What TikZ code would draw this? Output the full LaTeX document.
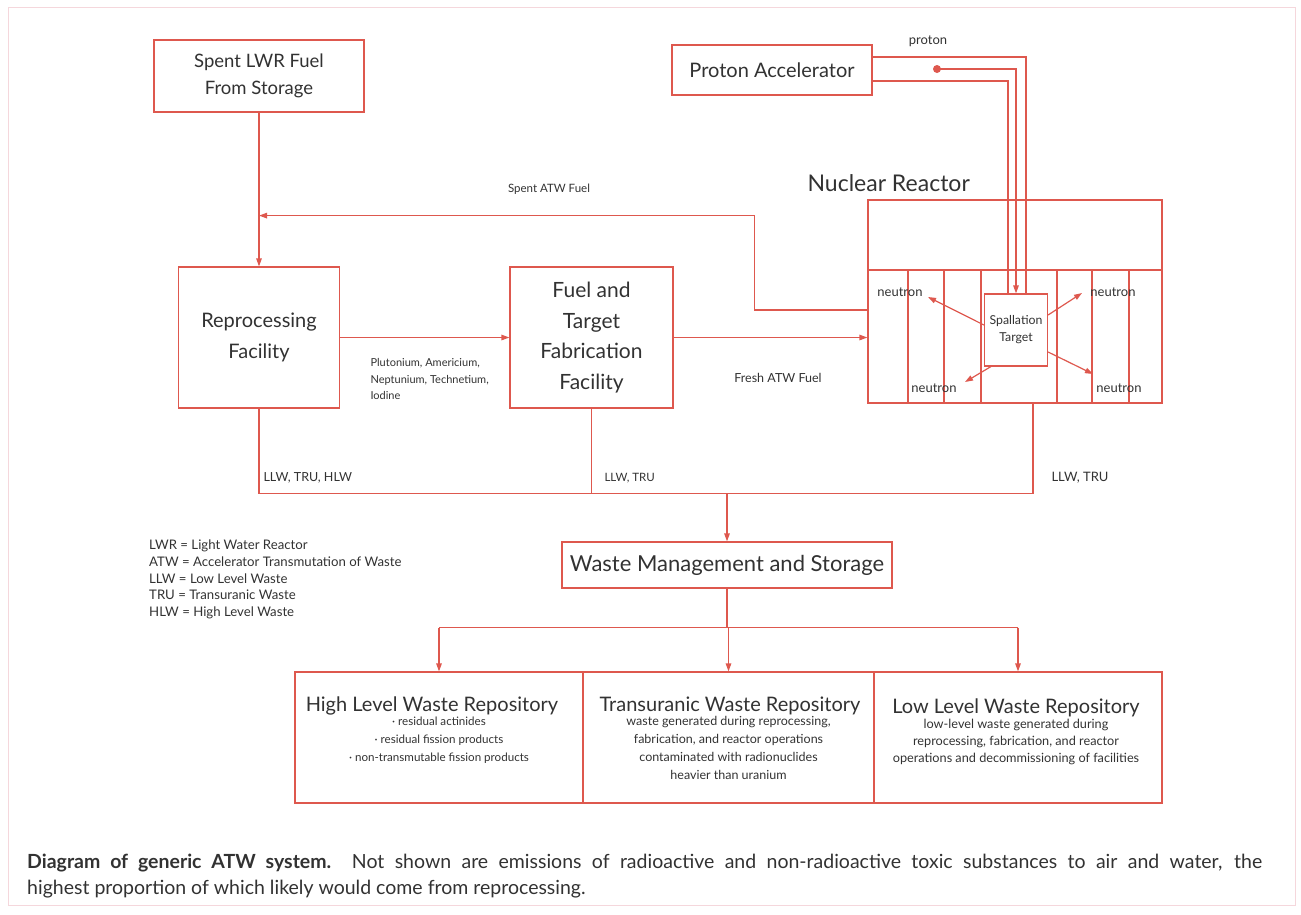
\documentclass[tikz,border=0pt]{standalone}
\usepackage{fontspec}
\setmainfont{Lato}
\usetikzlibrary{arrows.meta,calc}
\definecolor{lred}{RGB}{222,88,78}
\definecolor{txt}{RGB}{50,50,50}
\definecolor{frame}{RGB}{245,215,220}
\tikzset{
  box/.style={draw=lred, line width=1.2pt, inner sep=0pt},
  conn/.style={draw=lred, line width=1.2pt},
  arr/.style={conn, -{Triangle[length=8pt,width=5.5pt]}},
  big/.style={text=txt, font=\fontsize{20}{29}\selectfont, align=center},
  small/.style={text=txt, font=\fontsize{11}{16.5}\selectfont},
  lab/.style={text=txt, font=\fontsize{13}{16}\selectfont},
  desc/.style={text=txt, font=\fontsize{12.5}{18}\selectfont, align=center},
}
\begin{document}
\begin{tikzpicture}[x=1pt,y=-1pt]
\useasboundingbox (0,0) rectangle (1301,914);
\draw[frame, line width=1pt] (8,7) rectangle (1295,905);

% top boxes
\node[box, minimum width=210, minimum height=72] (spent) at (259,76) {};
\node[big, font=\fontsize{18.5}{27}\selectfont] (spentt) at (spent.center) {Spent LWR Fuel\\From Storage};
\node[box, minimum width=200, minimum height=50] (acc) at (772,70) {};
\node[big] (acct) at (acc.center) {Proton Accelerator};

\node[box, minimum width=161, minimum height=141] (repro) at (259,337.5) {};
\node[big, font=\fontsize{20}{31}\selectfont] (reprot) at (repro.center) {Reprocessing\\Facility};
\node[box, minimum width=163, minimum height=141] (fuel) at (591.5,337.5) {};
\node[big, font=\fontsize{21}{30.5}\selectfont] (fuelt) at (fuel.center) {Fuel and\\Target\\Fabrication\\Facility};

% reactor
\node[big, font=\fontsize{23}{26}\selectfont, anchor=base west] (nrt) at (804,191) {Nuclear Reactor};
\node[box, minimum width=294, minimum height=203] (reactor) at (1015,301.5) {};
\draw[conn] (868,270) -- (1162,270);
\foreach \x in {908,944,981,1057,1092,1129} \draw[conn] (\x,270) -- (\x,403);
\node[box, fill=white, minimum width=63, minimum height=72] (target) at (1016,330) {};
\node[lab, align=center, font=\fontsize{12.3}{17}\selectfont] (targett) at (target.center) {Spallation\\Target};

% neutrons
\draw[arr] ($(target.west)+(0,-5)$) -- (928,297);
\draw[arr] ($(target.east)+(0,-15)$) -- (1082,293);
\draw[arr] ($(target.south west)+(7,0)$) -- (965,382);
\draw[arr] ($(target.east)+(0,22)$) -- (1093,374);
\node[lab] (n1) at (900,292) {neutron};
\node[lab] (n2) at (1113,292) {neutron};
\node[lab] (n3) at (934,388) {neutron};
\node[lab] (n4) at (1119,388) {neutron};

% protons
\draw[conn] ($(acc.east)+(0,-13)$) -| ($(target.north)+(10,0)$);
\draw[conn] ($(acc.east)+(0,11)$) -| ($(target.north)+(-8,0)$);
\coordinate (pdot) at (937,69);
\fill[lred] (pdot) circle (4);
\draw[arr] (pdot) -| (target.north);
\node[lab] (protont) at (928,41) {proton};

% main flows
\coordinate (join) at ($(spent.south)+(0,103)$);
\draw[arr] (spent.south) -- (repro.north);
\draw[arr] ($(reactor.west)+(0,8.5)$) -- ++(-113,0) |- (join);
\node[small, font=\fontsize{11.5}{16}\selectfont] (spentatw) at (549,189) {Spent ATW Fuel};
\draw[arr] (repro.east) -- (fuel.west);
\node[small, align=left, anchor=north west] (elements) at (367,355) {Plutonium, Americium,\\Neptunium, Technetium,\\Iodine};
\draw[arr] (fuel.east) -- (fuel.east -| reactor.west);
\node[small, font=\fontsize{12.5}{16}\selectfont] (fresh) at (778,378) {Fresh ATW Fuel};

% waste collection
\coordinate (rbot) at ($(reactor.south)+(18,0)$);
\node[box, minimum width=330, minimum height=46] (wm) at (727,565) {};
\node[big, font=\fontsize{22}{26}\selectfont] (wmt) at (wm.center) {Waste Management and Storage};
\draw[conn] (repro.south) -- ++(0,85) coordinate (wl) -| (rbot);
\draw[conn] (fuel.south) -- (fuel.south |- wl);
\draw[arr] (wm.north |- wl) -- (wm.north);
\node[lab, anchor=west, font=\fontsize{12.5}{16}\selectfont] (w1) at (260,478) {LLW, TRU, HLW};
\node[lab, anchor=west, font=\fontsize{11.5}{16}\selectfont] (w2) at (601,478) {LLW, TRU};
\node[lab, anchor=west, font=\fontsize{13}{16}\selectfont] (w3) at (1048,478) {LLW, TRU};

% legend
\node[lab, align=left, anchor=north west, inner sep=0pt, font=\fontsize{13.2}{16.6}\selectfont] (legend) at (149,540) {LWR = Light Water Reactor\\ATW = Accelerator Transmutation of Waste\\LLW = Low Level Waste\\TRU = Transuranic Waste\\HLW = High Level Waste};

% repositories
\node[box, minimum width=288, minimum height=131] (hlw) at (439,737.5) {};
\node[box, minimum width=291, minimum height=131] (tru) at (728.5,737.5) {};
\node[box, minimum width=288, minimum height=131] (llw) at (1018,737.5) {};
\draw[conn] (wm.south) -- ++(0,39) coordinate (bl);
\draw[conn] (hlw.north |- bl) -- (llw.north |- bl);
\draw[arr] (hlw.north |- bl) -- (hlw.north);
\draw[arr] (tru.north |- bl) -- (tru.north);
\draw[arr] (llw.north |- bl) -- (llw.north);

\node[big, anchor=base] (hlwt) at (432,711) {High Level Waste Repository};
\node[desc, anchor=north, font=\fontsize{11.6}{18}\selectfont] (hlwd) at (439,713) {· residual actinides\\· residual fission products\\· non-transmutable fission products};
\node[big, anchor=base] (trut) at (730,711) {Transuranic Waste Repository};
\node[desc, anchor=north] (trud) at (728.5,713) {waste generated during reprocessing,\\fabrication, and reactor operations\\contaminated with radionuclides\\heavier than uranium};
\node[big, anchor=base] (llwt) at (1016,713) {Low Level Waste Repository};
\node[desc, anchor=north, font=\fontsize{12.7}{17}\selectfont] (llwd) at (1016,716) {low-level waste generated during\\reprocessing, fabrication, and reactor\\operations and decommissioning of facilities};

% caption
\node[text=txt, anchor=base west, inner sep=0pt, font=\fontsize{19.5}{26}\selectfont] (caption1) at (27,868) {\makebox[1235pt][s]{\textbf{Diagram of generic ATW system.}\ \ Not shown are emissions of radioactive and non-radioactive toxic substances to air and water, the}};
\node[text=txt, anchor=base west, inner sep=0pt, font=\fontsize{19.5}{26}\selectfont] (caption2) at (27,894) {highest proportion of which likely would come from reprocessing.};
\end{tikzpicture}
\end{document}
